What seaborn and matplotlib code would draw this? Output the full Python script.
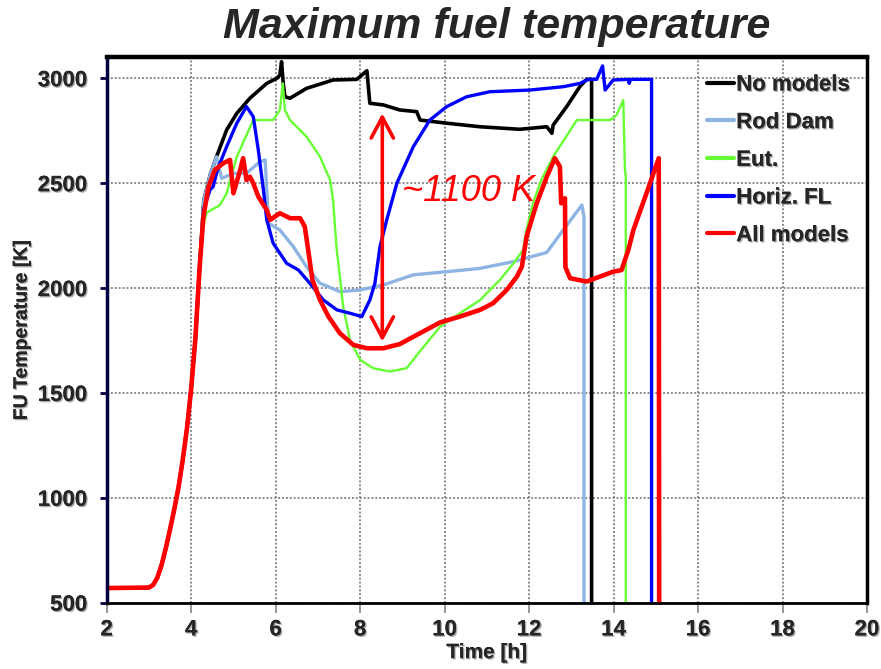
import numpy as np
import pandas as pd
import matplotlib
matplotlib.use("Agg")
import matplotlib.pyplot as plt
import matplotlib.patheffects as pe
import seaborn as sns

# ---------------- data ----------------
# common heat-up part shared by all calculations
t_common = [2.0, 3.0, 3.1, 3.2, 3.3, 3.4, 3.5, 3.6, 3.7, 3.8, 3.9, 4.0, 4.1, 4.2]
T_common = [570, 572, 585, 620, 680, 760, 850, 945, 1050, 1180, 1330, 1520, 1760, 2100]

t_nomod = [4.3, 4.45, 4.6, 4.84, 5.08, 5.39, 5.79, 6.03, 6.10, 6.14, 6.18, 6.22, 6.34,
           6.73, 7.36, 7.92, 8.16, 8.23, 8.55, 8.94, 9.34, 9.42, 10.05, 10.84, 11.78,
           12.42, 12.54, 12.57, 12.89, 13.20, 13.36, 13.48, 13.48]
T_nomod = [2420, 2540, 2626, 2754, 2833, 2905, 2976, 3000, 3016, 3079, 2976, 2912, 2905,
           2952, 2992, 2995, 3036, 2881, 2873, 2849, 2841, 2801, 2786, 2769, 2757,
           2769, 2738, 2777, 2865, 2960, 2995, 2995, 500]

t_rod = [4.3, 4.45, 4.52, 4.60, 4.72, 5.0, 5.31, 5.63, 5.75, 5.79, 5.83, 6.10, 6.42,
         6.73, 7.05, 7.52, 8.0, 8.55, 9.26, 10.05, 10.84, 11.63, 12.42, 12.81, 13.25,
         13.30, 13.30]
T_rod = [2420, 2540, 2579, 2626, 2523, 2547, 2547, 2603, 2611, 2468, 2309, 2277, 2197,
         2102, 2023, 1983, 1991, 2015, 2063, 2078, 2094, 2126, 2170, 2277, 2396,
         2340, 500]

t_eut = [4.3, 4.37, 4.5, 4.68, 4.84, 5.08, 5.47, 5.94, 6.10, 6.17, 6.22, 6.34, 6.73,
         7.05, 7.29, 7.36, 7.44, 7.60, 7.76, 8.0, 8.31, 8.71, 9.10, 9.42, 9.89, 10.36,
         10.84, 11.31, 11.63, 11.86, 11.94, 12.10, 12.30, 12.57, 13.13, 13.92, 14.07,
         14.23, 14.27, 14.29, 14.29]
T_eut = [2310, 2360, 2375, 2395, 2452, 2626, 2801, 2801, 2849, 2976, 2849, 2801, 2722,
         2626, 2515, 2420, 2197, 1911, 1753, 1658, 1618, 1602, 1618, 1700, 1815, 1880,
         1943, 2039, 2118, 2182, 2280, 2410, 2520, 2626, 2801, 2801, 2825,
         2896, 2563, 2531, 500]

t_horiz = [4.3, 4.45, 4.52, 4.60, 4.68, 4.84, 5.08, 5.31, 5.47, 5.59, 5.71, 5.79, 5.94,
           6.26, 6.54, 6.81, 7.13, 7.45, 7.76, 8.04, 8.23, 8.35, 8.47, 8.63, 8.87, 9.26,
           9.65, 10.05, 10.52, 11.07, 12.02, 12.81, 13.21, 13.40, 13.60, 13.74, 13.80,
           13.99, 14.35, 14.37, 14.40, 14.90, 14.90]
T_horiz = [2380, 2470, 2483, 2547, 2595, 2674, 2786, 2865, 2817, 2658, 2468, 2325, 2214,
           2118, 2086, 2023, 1943, 1896, 1880, 1864, 1943, 2023, 2197, 2325, 2500, 2674,
           2801, 2865, 2912, 2936, 2944, 2960, 2976, 2995, 2995, 3059, 2944,
           2992, 2995, 2976, 2995, 2995, 500]

t_all = [4.29, 4.41, 4.56, 4.76, 4.92, 5.0, 5.16, 5.23, 5.31, 5.39, 5.47, 5.59, 5.79,
         5.87, 6.10, 6.34, 6.58, 6.69, 6.77, 6.87, 7.05, 7.25, 7.52, 7.84, 8.16, 8.55,
         8.94, 9.42, 9.89, 10.36, 10.84, 11.15, 11.47, 11.71, 11.83, 11.94, 12.18,
         12.42, 12.61, 12.73, 12.76, 12.81, 12.85, 12.86, 12.97, 13.36, 13.99, 14.19,
         14.35, 14.47, 14.78, 15.07, 15.08]
T_all = [2340, 2483, 2563, 2595, 2611, 2452, 2563, 2619, 2515, 2531, 2500, 2436, 2372,
         2325, 2357, 2333, 2333, 2293, 2182, 2039, 1943, 1864, 1785, 1729, 1713, 1713,
         1733, 1785, 1836, 1864, 1896, 1928, 1991, 2054, 2102, 2245, 2404,
         2531, 2619, 2579, 2404, 2420, 2428, 2100, 2047, 2031, 2078, 2086,
         2182, 2277, 2452, 2619, 500]

series_names = ["No models", "Rod Dam", "Eut.", "Horiz. FL", "All models"]
series_t = [t_nomod, t_rod, t_eut, t_horiz, t_all]
series_T = [T_nomod, T_rod, T_eut, T_horiz, T_all]
series_colors = ["#000000", "#8DB4E2", "#66FF33", "#0000FF", "#FF0000"]
series_lw = [2.6, 2.4, 1.7, 2.4, 3.3]

x_ticks = [2, 4, 6, 8, 10, 12, 14, 16, 18, 20]
y_ticks = [500, 1000, 1500, 2000, 2500, 3000]

arrow_t = 8.525
arrow_top = 2833
arrow_bottom = 1745
delta_label = "~1100 K"
delta_t, delta_T = 8.99, 2460

# ---------------- plotting ----------------
sns.set_theme(style="white")
plt.rcParams["font.family"] = ["Liberation Sans", "DejaVu Sans"]

fig = plt.figure(figsize=(8.81, 6.69), dpi=100)
ax = fig.add_axes([0.1211, 0.0991, 0.9841 - 0.1211, 0.9143 - 0.0991])

frames = []
for name, tt, TT in zip(series_names, series_t, series_T):
    t_full = t_common + tt
    T_full = T_common + TT
    frames.append(pd.DataFrame({"Time": t_full, "Temp": T_full, "Model": name}))
df = pd.concat(frames, ignore_index=True)

for name, col, lw in zip(series_names, series_colors, series_lw):
    sub = df[df["Model"] == name]
    sns.lineplot(data=sub, x="Time", y="Temp", sort=False, estimator=None,
                 color=col, lw=lw, label=name, ax=ax)

ax.set_xlim(2, 20)
ax.set_ylim(500, 3100)
ax.set_xticks(x_ticks)
ax.set_yticks(y_ticks)
ax.grid(True, color="#8a8a8a", linestyle=(0, (1, 1)), lw=1.4)
ax.set_axisbelow(True)

shadow = [pe.withSimplePatchShadow(offset=(1, -1), shadow_rgbFace="#9a9a9a", alpha=0.8),
          pe.Normal()]

for lab in ax.get_xticklabels() + ax.get_yticklabels():
    lab.set_fontweight("bold")
    lab.set_fontsize(16)
    lab.set_path_effects(shadow)

ax.tick_params(axis="y", direction="out", length=5, width=2, color="#000040", pad=9,
               left=True)
ax.tick_params(axis="x", direction="out", length=7, width=1.3, color="#8f8f8f", pad=5,
               bottom=True)

ax.set_xlabel("Time [h]", fontsize=15, fontweight="bold", labelpad=2,
              path_effects=shadow)
ax.set_ylabel("FU Temperature [K]", fontsize=14, fontweight="bold", labelpad=5,
              path_effects=shadow)

for side, lw, col in [("top", 3.2, "black"), ("right", 2.5, "black"),
                      ("left", 2.5, "#000040"), ("bottom", 2.0, "black")]:
    ax.spines[side].set_visible(True)
    ax.spines[side].set_linewidth(lw)
    ax.spines[side].set_color(col)

leg = ax.legend(loc="upper right", bbox_to_anchor=(0.995, 0.993), frameon=False,
                fontsize=16, handlelength=1.2, handletextpad=0.1, labelspacing=0.75,
                borderaxespad=0.2)
for line in leg.get_lines():
    line.set_linewidth(3)
for txt in leg.get_texts():
    txt.set_fontweight("bold")
    txt.set_path_effects(shadow)

ax.annotate("", xy=(arrow_t, arrow_bottom), xytext=(arrow_t, arrow_top),
            arrowprops=dict(arrowstyle="<->,head_length=0.75,head_width=0.4",
                            lw=2.6, color="red", mutation_scale=20,
                            shrinkA=0, shrinkB=0))
ax.text(delta_t, delta_T, delta_label, color="red", fontsize=26, style="italic",
        ha="left", va="center")

fig.text(497 / 881, 1 - 27 / 669, "Maximum fuel temperature",
         fontsize=31, fontweight="bold", style="italic", ha="center", va="center")

fig.savefig("out.png", dpi=100)
